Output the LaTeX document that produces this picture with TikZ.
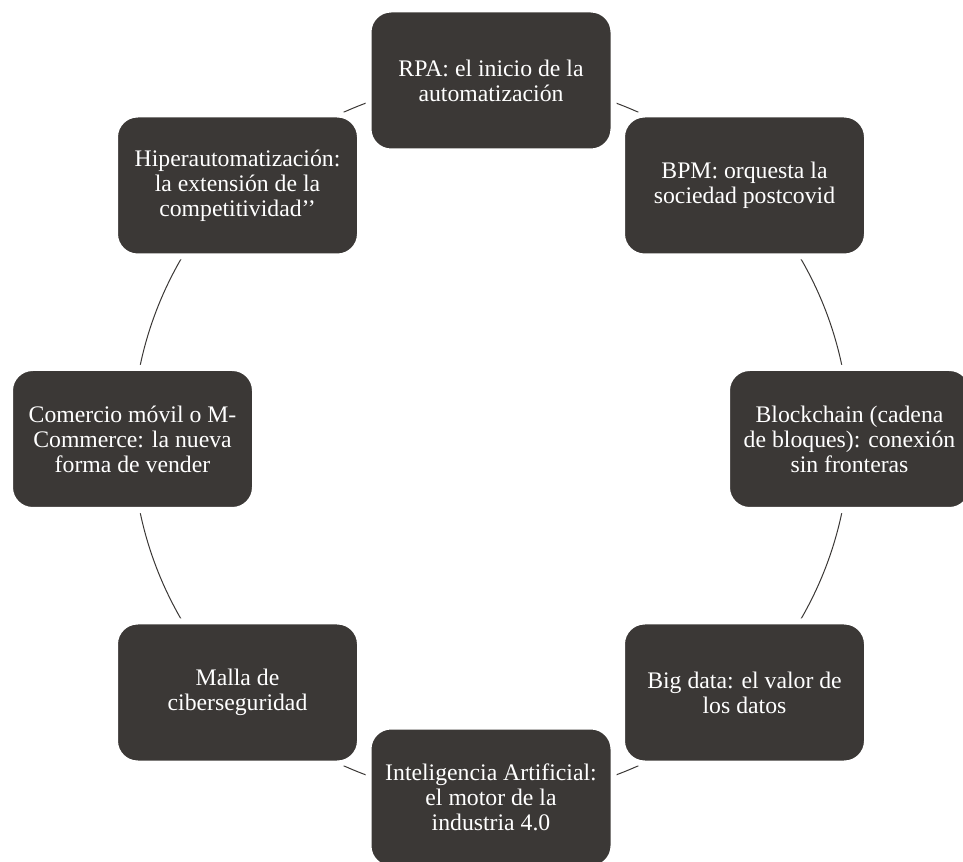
\documentclass[tikz,border=0pt]{standalone}
\usepackage{fontspec}
\setmainfont{Liberation Serif}
\usetikzlibrary{backgrounds}
\definecolor{cyclegray}{RGB}{59,56,54}
\tikzset{
  stage/.style={rectangle, rounded corners=17pt, fill=cyclegray, draw=white,
    line width=4.5pt, minimum width=183.75pt, minimum height=106.5pt,
    inner sep=0pt, text=white, align=center,
    font=\fontsize{17.8}{18.75}\selectfont},
  link/.style={draw=cyclegray, line width=0.75pt, bend left=22.5, looseness=0.885}
}

\begin{document}
\begin{tikzpicture}[x=0.75pt,y=0.75pt]
\useasboundingbox (0,0) rectangle (963,861);
\coordinate (c) at (491,422);
\path (c) ++(90:358.5) node[stage] (rpa) {RPA: el inicio de la\\automatización};
\path (c) ++(45:358.5) node[stage] (bpm) {BPM: orquesta la\\sociedad postcovid};
\path (c) ++(0:358.5) node[stage] (chain) {Blockchain (cadena\\de bloques): conexión\\sin fronteras};
\path (c) ++(-45:358.5) node[stage] (data) {Big data: el valor de\\los datos};
\path (c) ++(-90:358.5) node[stage] (ia) {Inteligencia Artificial:\\el motor de la\\industria 4.0};
\path (c) ++(-135:358.5) node[stage] (malla) {Malla de\\ciberseguridad};
\path (c) ++(180:358.5) node[stage] (movil) {Comercio móvil o M-\\Commerce: la nueva\\forma de vender};
\path (c) ++(135:358.5) node[stage] (hiper) {Hiperautomatización:\\la extensión de la\\competitividad’’};
% arcs of the cycle, under the boxes
\begin{pgfonlayer}{background}
\draw[link] (rpa.center) to (bpm.center);
\draw[link] (bpm.center) to (chain.center);
\draw[link] (chain.center) to (data.center);
\draw[link] (data.center) to (ia.center);
\draw[link] (ia.center) to (malla.center);
\draw[link] (malla.center) to (movil.center);
\draw[link] (movil.center) to (hiper.center);
\draw[link] (hiper.center) to (rpa.center);
\end{pgfonlayer}
\end{tikzpicture}
\end{document}
